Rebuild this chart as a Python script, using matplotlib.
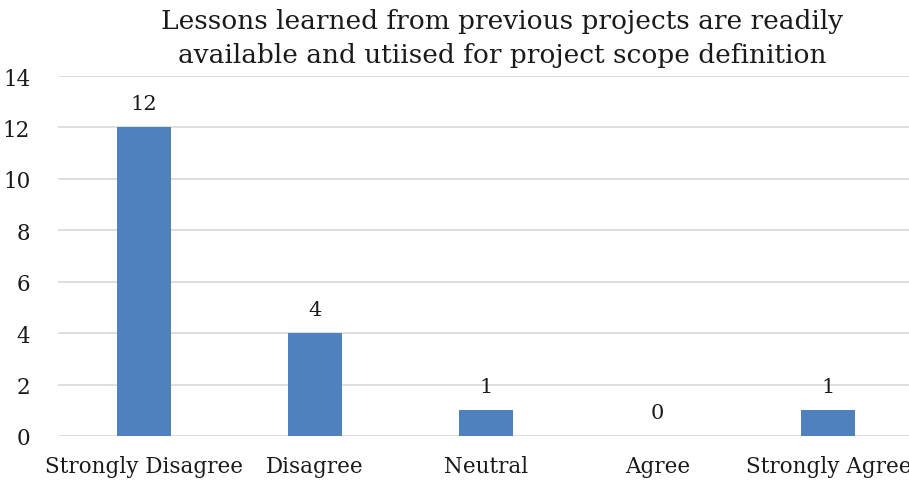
import numpy as np
import matplotlib.pyplot as plt

categories = ['Strongly Disagree', 'Disagree', 'Neutral', 'Agree', 'Strongly Agree']
counts = [12, 4, 1, 0, 1]

plt.rcParams['font.family'] = ['DejaVu Serif']

fig = plt.figure(figsize=(9.09, 4.85), dpi=100)
ax = fig.add_axes([58 / 909, 1 - 437 / 485, (914 - 58) / 909, (437 - 77) / 485])

x = np.arange(len(categories))
bars = ax.bar(x, counts, width=0.315, color='#4f81bd', zorder=3)

for xi, v in zip(x, counts):
    ax.text(xi, v + 0.55, str(v), ha='center', va='bottom', fontsize=15, color='#1a1a1a')

ax.set_xlim(-0.5, len(categories) - 0.5)
ax.set_ylim(0, 14)
ax.set_yticks(range(0, 15, 2))
ax.set_xticks(x)
ax.set_xticklabels(categories)
ax.tick_params(axis='both', length=0, labelsize=15.5, colors='#1a1a1a')
ax.tick_params(axis='x', pad=14)
ax.tick_params(axis='y', pad=20)
ax.grid(axis='y', color='#d9d9d9', linewidth=1.2, zorder=0)
for s in ax.spines.values():
    s.set_visible(False)

fig.text(502 / 909, 1 - 39 / 485,
         'Lessons learned from previous projects are readily\navailable and utiised for project scope definition',
         ha='center', va='center', fontsize=19, linespacing=1.45, color='#1a1a1a')

fig.savefig('out.png', dpi=100)
